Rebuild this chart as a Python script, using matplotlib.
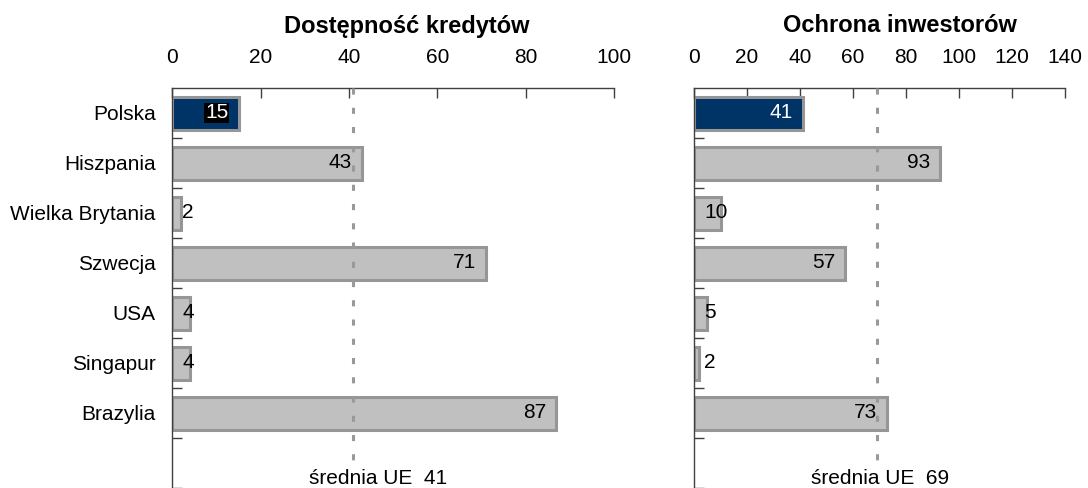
import matplotlib
matplotlib.use("Agg")
import matplotlib.pyplot as plt

plt.rcParams['font.family'] = ['Liberation Sans', 'DejaVu Sans']

categories = ["Polska", "Hiszpania", "Wielka Brytania", "Szwecja", "USA", "Singapur", "Brazylia"]
credit = [15, 43, 2, 71, 4, 4, 87]
investors = [41, 93, 10, 57, 5, 2, 73]
titles = ["Dostępność kredytów", "Ochrona inwestorów"]
eu_avg = [41, 69]
xmax = [100, 140]

navy = "#003366"
grey_fill = "#c0c0c0"
grey_edge = "#969696"
axis_col = "#404040"
fs = 15

fig = plt.figure(figsize=(10.88, 4.88), dpi=100)
ax1 = fig.add_axes([172.3 / 1088, 0, 441.5 / 1088, 400 / 488])
ax2 = fig.add_axes([694 / 1088, 0, 371 / 1088, 400 / 488])

panels = [(ax1, credit, 0, 0.53, 46.6), (ax2, investors, 1, 0.555, 70.2)]

for ax, vals, k, title_x, avg_text_x in panels:
    ypos = list(range(len(categories)))
    colors = [navy] + [grey_fill] * (len(vals) - 1)
    ax.barh(ypos, vals, height=0.66, color=colors, edgecolor=grey_edge,
            linewidth=2.2, zorder=2)
    ax.set_xlim(0, xmax[k])
    ax.set_ylim(7.5, -0.5)

    # dashed EU average line
    ax.plot([eu_avg[k], eu_avg[k]], [-0.5, 7.0], color="#999999", lw=2.2,
            dashes=(2, 4.3), zorder=3, solid_capstyle="butt")
    ax.text(avg_text_x, 7.3, "średnia UE  %d" % eu_avg[k], ha="center",
            va="center", fontsize=fs, zorder=4)

    # value labels
    px_per_unit = ax.transData.transform((1, 0))[0] - ax.transData.transform((0, 0))[0]
    for i, v in enumerate(vals):
        s = str(v)
        tw = len(s) * 0.556 * fs * 100 / 72
        tcol = "white" if i == 0 else "black"
        bbox = None
        if i == 0 and k == 0:
            bbox = dict(facecolor="black", edgecolor="none", pad=0.6)
        if v * px_per_unit - 10 - tw >= 10:
            ax.annotate(s, xy=(v, i), xytext=(-10, 0), textcoords="offset pixels",
                        ha="right", va="center", fontsize=fs, color=tcol,
                        bbox=bbox, zorder=5)
        else:
            ax.annotate(s, xy=(0, i), xytext=(10, 0), textcoords="offset pixels",
                        ha="left", va="center", fontsize=fs, color=tcol,
                        bbox=bbox, zorder=5)

    ax.xaxis.tick_top()
    ax.set_xticks(range(0, xmax[k] + 1, 20))
    ax.tick_params(axis="x", direction="in", length=7, width=1, color=axis_col,
                   pad=15, labelsize=fs)
    ax.set_yticks([y + 0.5 for y in range(8)], minor=True)
    ax.tick_params(axis="y", which="minor", direction="in", length=7, width=1,
                   color=axis_col)
    ax.set_yticks(ypos)
    ax.tick_params(axis="y", which="major", length=0, pad=12, labelsize=fs)
    if k == 0:
        ax.set_yticklabels(categories)
    else:
        ax.set_yticklabels([])

    for side in ["right", "bottom"]:
        ax.spines[side].set_visible(False)
    for side in ["top", "left"]:
        ax.spines[side].set_color(axis_col)
        ax.spines[side].set_linewidth(1)

    ax.text(title_x, 1.0 + 62 / 400, titles[k], transform=ax.transAxes,
            ha="center", va="center", fontsize=17, fontweight="bold")

fig.savefig("out.png", dpi=100)
